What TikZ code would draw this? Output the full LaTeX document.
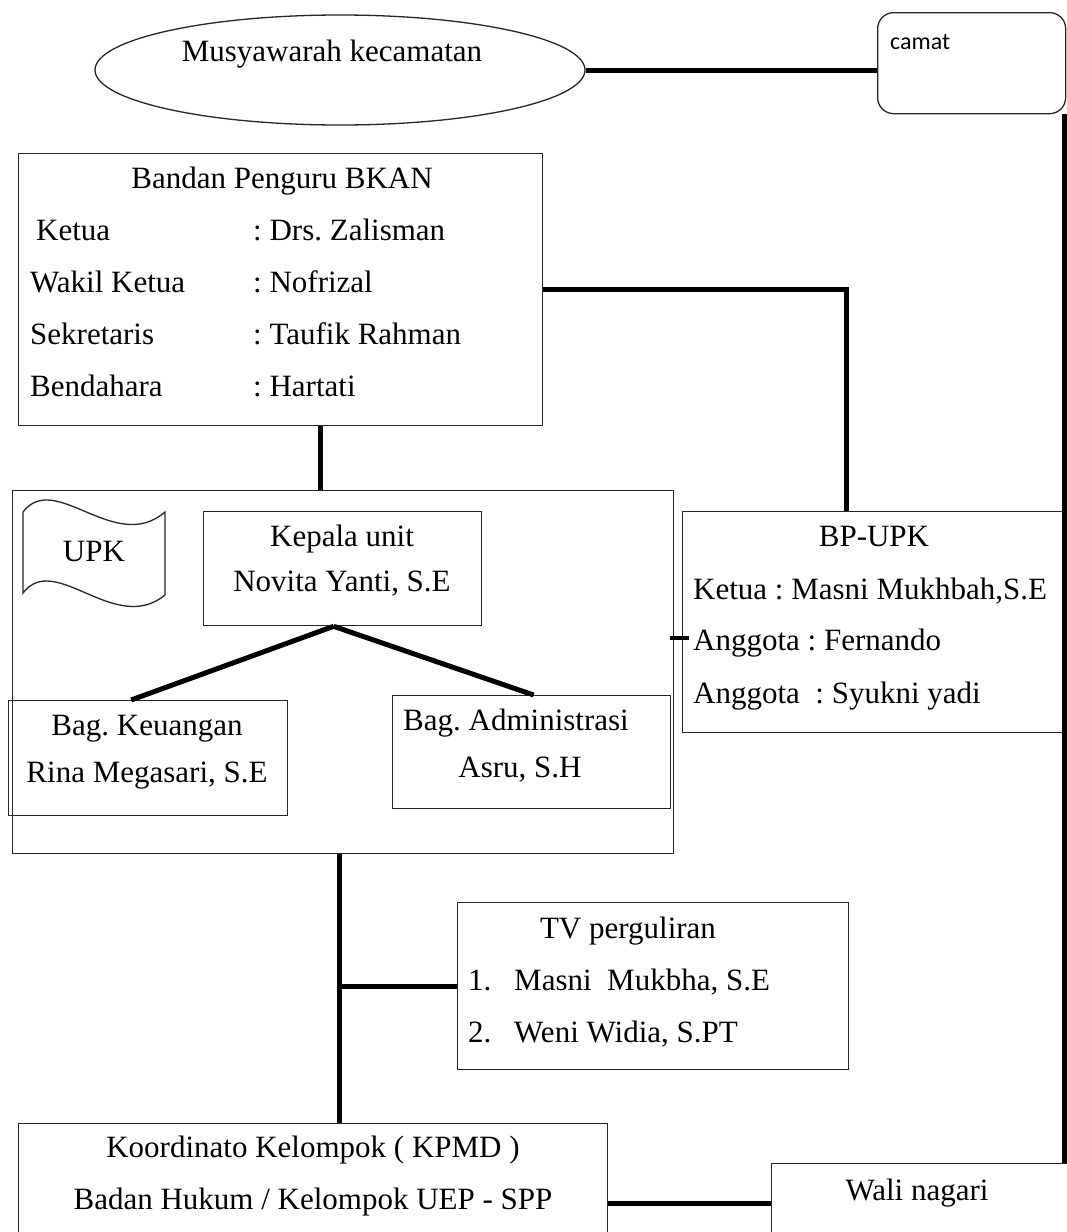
\documentclass[tikz,border=0pt]{standalone}
\usepackage{fontspec}
\setmainfont{Liberation Serif}
\newfontfamily\camatfont{Carlito}
\usetikzlibrary{shapes.geometric,calc}
\begin{document}
\frenchspacing
\begin{tikzpicture}[x=1pt,y=-1pt,
  box/.style={draw=black!85, line width=1.3pt, rectangle, inner sep=0pt, anchor=north west},
  conn/.style={line width=5pt, black},
  txt/.style={inner sep=0pt, font=\fontsize{31}{36}\selectfont\frenchspacing},
]
\useasboundingbox[fill=white] (0,0) rectangle (1067,1232);

% shapes
\node[draw=black!85, line width=1.3pt, ellipse, minimum width=490pt, minimum height=110pt, inner sep=0pt] (mus) at (340,70) {};
\node[box, rounded corners=16pt, minimum width=188pt, minimum height=101pt] (camat) at (877,12) {};
\node[box, minimum width=524pt, minimum height=272pt] (bkan) at (18,153) {};
\node[box, minimum width=661pt, minimum height=363pt] (upk) at (12,490) {};
\node[box, minimum width=278pt, minimum height=114pt] (kepala) at (203,511) {};
\node[box, minimum width=279pt, minimum height=115pt] (keu) at (8,700) {};
\node[box, minimum width=278pt, minimum height=113pt] (adm) at (392,695) {};
\node[box, minimum width=381pt, minimum height=221pt] (bpupk) at (682,511) {};
\node[box, minimum width=391pt, minimum height=167pt] (tv) at (457,902) {};
\node[box, minimum width=589pt, minimum height=130pt] (kpmd) at (18,1123) {};
\node[box, minimum width=310pt, minimum height=90pt] (wali) at (771,1163) {};

% UPK flag
\draw[draw=black!85, line width=1.3pt] (23,512) .. controls (55,470) and (115,555) .. (165,512)
  -- (165,595) .. controls (115,636) and (55,551) .. (23,593) -- cycle;

% connectors
\draw[conn] (mus.east) -- (mus.east -| camat.west);
\coordinate (cr) at ([xshift=-2pt]camat.south east);
\draw[conn] (cr) -- (cr |- wali.north);
\coordinate (bp) at ([xshift=-26.5pt]bpupk.north);
\draw[conn] (bkan.east) -| (bp);
\coordinate (bk) at ([xshift=40pt]bkan.south);
\draw[conn] (bk) -- (bk |- upk.north);
\coordinate (kp) at ([xshift=-9pt]kepala.south);
\draw[conn] (kp) -- ([xshift=-17pt]keu.north);
\draw[conn] (kp) -- ([xshift=2pt]adm.north);
\coordinate (tk) at ([yshift=-15.5pt]bpupk.west);
\draw[line width=4pt] ([xshift=-12pt]tk) -- ([xshift=7pt]tk);
\coordinate (vl) at ([xshift=-4pt]upk.south);
\draw[conn] (vl) -- (vl |- kpmd.north);
\draw[conn] (tv.west) -- (tv.west -| vl);
\coordinate (kr) at ([yshift=-15pt]kpmd.east);
\draw[conn] (kr) -- (kr -| wali.west);

% texts
\node[txt, anchor=base] (tmus) at (332,61) {Musyawarah kecamatan};
\node[inner sep=0pt, anchor=base west, font=\camatfont\fontsize{24}{28}\selectfont] (tcamat) at (890,49) {camat};

\node[txt, anchor=base] (tbk) at (282,188) {Bandan Penguru BKAN};
\node[txt, anchor=base west] (tbk1) at (36,240) {Ketua};
\node[txt, anchor=base west] (tbk2) at (30,292) {Wakil Ketua};
\node[txt, anchor=base west] (tbk3) at (30,344) {Sekretaris};
\node[txt, anchor=base west] (tbk4) at (30,396) {Bendahara};
\node[txt, anchor=base west] (tbv1) at (253,240) {: Drs. Zalisman};
\node[txt, anchor=base west] (tbv2) at (253,292) {: Nofrizal};
\node[txt, anchor=base west] (tbv3) at (253,344) {: Taufik Rahman};
\node[txt, anchor=base west] (tbv4) at (253,396) {: Hartati};

\node[txt, anchor=base] (tupk) at (94,561) {UPK};
\node[txt, anchor=base] (tkp1) at (342,546) {Kepala unit};
\node[txt, anchor=base] (tkp2) at (342,591) {Novita Yanti, S.E};
\node[txt, anchor=base] (tkeu1) at (147,735) {Bag. Keuangan};
\node[txt, anchor=base] (tkeu2) at (147,782) {Rina Megasari, S.E};
\node[txt, anchor=base west] (tadm1) at (403,730) {Bag. Administrasi};
\node[txt, anchor=base] (tadm2) at (520,777) {Asru, S.H};

\node[txt, anchor=base] (tbp) at (874,546) {BP-UPK};
\node[txt, anchor=base west] (tbp1) at (693,599) {Ketua : Masni Mukhbah,S.E};
\node[txt, anchor=base west] (tbp2) at (693,650) {Anggota : Fernando};
\node[txt, anchor=base west] (tbp3) at (693,703) {Anggota\ \ : Syukni yadi};

\node[txt, anchor=base] (ttv) at (628,938) {TV perguliran};
\node[txt, anchor=base west] (ttv1n) at (468,990) {1.};
\node[txt, anchor=base west] (ttv1) at (514,990) {Masni\ \ Mukbha, S.E};
\node[txt, anchor=base west] (ttv2n) at (468,1042) {2.};
\node[txt, anchor=base west] (ttv2) at (514,1042) {Weni Widia, S.PT};

\node[txt, anchor=base] (tkpmd1) at (313,1157) {Koordinato Kelompok ( KPMD )};
\node[txt, anchor=base] (tkpmd2) at (313,1209) {Badan Hukum / Kelompok UEP - SPP};
\node[txt, anchor=base] (twali) at (917,1200) {Wali nagari};
\end{tikzpicture}
\end{document}
